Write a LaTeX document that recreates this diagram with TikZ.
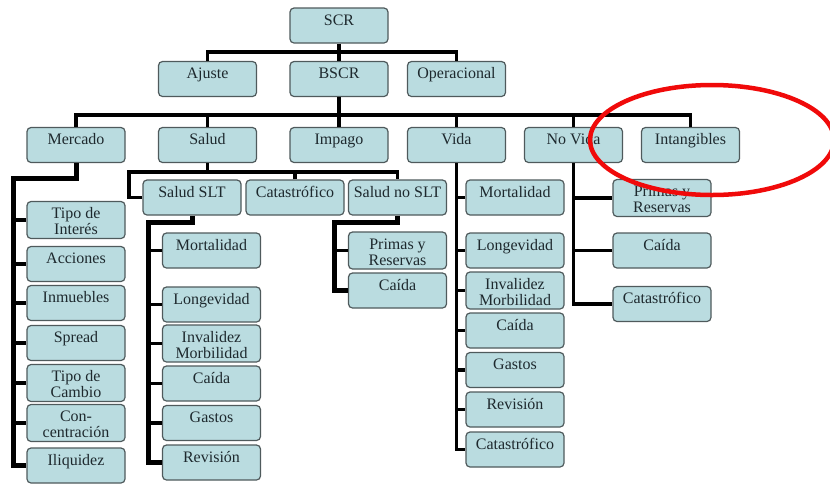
\documentclass[tikz,border=0pt]{standalone}
\usepackage{fontspec}
\setmainfont{Liberation Serif}
\definecolor{relleno}{HTML}{BADCE0}
\definecolor{borde}{HTML}{4F5A5C}
\definecolor{texto}{HTML}{1E292E}
\definecolor{marca}{HTML}{F00A0A}
\tikzset{
	caja/.style = {draw = borde, fill = relleno, rounded corners = 4pt, line width = 1.2pt, inner xsep = 2pt, inner ysep = 4pt, text height = 13pt, text depth = 14pt, align = center, text = texto, font = \fontsize{16}{16}\selectfont},
	doble/.style = {text height = 29pt, text depth = -2pt},
	rama/.style = {line width = 3.5pt},
	tronco/.style = {line width = 5pt}
}
\newcommand{\caja}[1]{
	\node[caja, minimum width = #1] 
}
\newcommand{\cajad}[1]{
	\node[caja, doble, minimum width = #1] 
}

\begin{document}
\begin{tikzpicture}[x = 1pt, y = -1pt]

		\useasboundingbox (0,0) rectangle (830,483);

		\caja{98pt} (scr) at (339, 25.5) {SCR};
		\caja{98pt} (ajuste) at (207.5, 79) {Ajuste};
		\caja{98pt} (bscr) at (339, 79) {BSCR};
		\caja{98pt} (operacional) at (456.5, 79) {Operacional};

		\caja{98pt} (mercado) at (76, 145) {Mercado};
		\caja{98pt} (salud) at (207.5, 145) {Salud};
		\caja{98pt} (impago) at (339, 145) {Impago};
		\caja{98pt} (vida) at (456.5, 145) {Vida};
		\caja{98pt} (novida) at (573.5, 145) {No Vida};
		\caja{98pt} (intangibles) at (690.5, 145) {Intangibles};

		\cajad{98pt} (m_1) at (76, 220) {Tipo de\\Interés};
		\caja{98pt} (m_2) at (76, 264) {Acciones};
		\caja{98pt} (m_3) at (76, 303) {Inmuebles};
		\caja{98pt} (m_4) at (76, 343) {Spread};
		\cajad{98pt} (m_5) at (76, 383) {Tipo de\\Cambio};
		\cajad{98pt} (m_6) at (76, 423) {Con-\\centración};
		\caja{98pt} (m_7) at (76, 465.5) {Iliquidez};

		\caja{98pt} (slt) at (192, 197.5) {Salud SLT};
		\caja{98pt} (s_cat) at (295, 197.5) {Catastrófico};
		\caja{98pt} (noslt) at (397.5, 197.5) {Salud no SLT};

		\caja{98pt} (slt_1) at (211.5, 250.5) {Mortalidad};
		\caja{98pt} (slt_2) at (211.5, 304.5) {Longevidad};
		\cajad{98pt} (slt_3) at (211.5, 343.5) {Invalidez\\Morbilidad};
		\caja{98pt} (slt_4) at (211.5, 383.5) {Caída};
		\caja{98pt} (slt_5) at (211.5, 423) {Gastos};
		\caja{98pt} (slt_6) at (211.5, 462.5) {Revisión};

		\cajad{98pt} (noslt_1) at (397.5, 250.5) {Primas y\\Reservas};
		\caja{98pt} (noslt_2) at (397.5, 290.5) {Caída};

		\caja{98pt} (v_1) at (515, 197.5) {Mortalidad};
		\caja{98pt} (v_2) at (515, 250.5) {Longevidad};
		\cajad{98pt} (v_3) at (515, 290.5) {Invalidez\\Morbilidad};
		\caja{98pt} (v_4) at (515, 330.5) {Caída};
		\caja{98pt} (v_5) at (515, 370) {Gastos};
		\caja{98pt} (v_6) at (515, 409.5) {Revisión};
		\caja{98pt} (v_7) at (515, 449.5) {Catastrófico};

		\cajad{98pt} (nv_1) at (662, 198) {Primas y\\Reservas};
		\caja{98pt} (nv_2) at (662, 250.5) {Caída};
		\caja{98pt} (nv_3) at (662, 304) {Catastrófico};

		\coordinate (bus_1) at (339, 52);
		\coordinate (bus_2) at (339, 115);
		\draw[rama] (scr) -- (bscr);
		\draw[rama] (ajuste.north) |- (bus_1) -| (operacional.north);
		\draw[rama] (bscr) -- (impago);
		\draw[rama] (mercado.north) |- (bus_2) -| (intangibles.north);
		\foreach \rm in {salud, vida, novida}
			\draw[rama] (\rm.north) -- (\rm.north |- bus_2);

		\coordinate (m_bus) at (13, 178);
		\draw[tronco] (mercado.south) |- (m_bus) |- (m_7.west);
		\foreach \i in {1,...,6}
			\draw[rama] (m_bus |- m_\i.west) -- (m_\i.west);

		\coordinate (s_bus) at (129, 172);
		\draw[rama] (slt.west) -| (s_bus) -| (noslt.north);
		\draw[rama] (salud.south) -- (salud.south |- s_bus);
		\draw[rama] (s_cat.north) -- (s_cat.north |- s_bus);

		\coordinate (slt_bus) at (148, 222);
		\draw[tronco] (slt.south) |- (slt_bus) |- (slt_6.west);
		\foreach \i in {1,...,5}
			\draw[rama] (slt_bus |- slt_\i.west) -- (slt_\i.west);

		\coordinate (noslt_bus) at (334, 222);
		\draw[tronco] (noslt.south) |- (noslt_bus) |- (noslt_2.west);
		\draw[rama] (noslt_bus |- noslt_1.west) -- (noslt_1.west);

		\draw[rama] (vida.south) |- (v_7.west);
		\foreach \i in {1,...,6}
			\draw[rama] (vida.south |- v_\i.west) -- (v_\i.west);

		\draw[rama] (novida.south) |- (nv_3.west);
		\foreach \i in {1,2}
			\draw[rama] (novida.south |- nv_\i.west) -- (nv_\i.west);

		\draw[marca, line width = 4.5pt] (712, 140) ellipse [x radius = 122pt, y radius = 55pt];
	\end{tikzpicture}
\end{document}
